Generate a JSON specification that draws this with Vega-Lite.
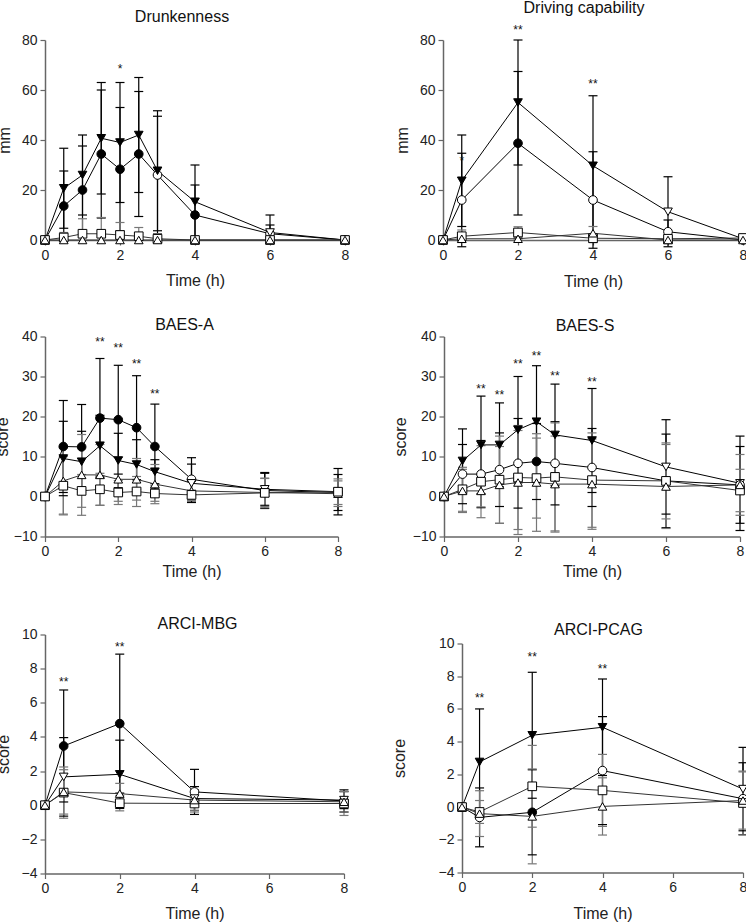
{
"$schema": "https://vega.github.io/schema/vega-lite/v6.json",
"padding": {"left": -6, "top": -1, "right": 0, "bottom": 0},
"datasets": {
"pts": [
{"p":"P1","s":"C","t":0,"m":0,"f":0},{"p":"P1","s":"C","t":0.5,"m":13.6,"lo":-0.4,"hi":27.6,"f":1},{"p":"P1","s":"C","t":1,"m":20,"lo":2.4,"hi":37.6,"f":1},{"p":"P1","s":"C","t":1.5,"m":34.4,"lo":8.8,"hi":60,"f":1},{"p":"P1","s":"C","t":2,"m":28.3,"lo":3.6,"hi":53,"f":1},{"p":"P1","s":"C","t":2.5,"m":34.4,"lo":9.4,"hi":59.4,"f":1},{"p":"P1","s":"C","t":3,"m":26,"lo":2.5,"hi":49.5,"f":0},{"p":"P1","s":"C","t":4,"m":10,"lo":-2,"hi":22,"f":1},{"p":"P1","s":"C","t":6,"m":2.5,"lo":-1,"hi":6,"f":0},{"p":"P1","s":"C","t":8,"m":0,"f":0},
{"p":"P1","s":"D","t":0,"m":0,"f":0},{"p":"P1","s":"D","t":0.5,"m":20.7,"lo":4.7,"hi":36.7,"f":1},{"p":"P1","s":"D","t":1,"m":26,"lo":10,"hi":42,"f":1},{"p":"P1","s":"D","t":1.5,"m":40.7,"lo":18.4,"hi":63,"f":1},{"p":"P1","s":"D","t":2,"m":39,"lo":15,"hi":63,"f":1},{"p":"P1","s":"D","t":2.5,"m":42,"lo":19,"hi":65,"f":1},{"p":"P1","s":"D","t":3,"m":27.7,"lo":3.7,"hi":51.7,"f":1},{"p":"P1","s":"D","t":4,"m":15.3,"lo":0.6,"hi":30,"f":1},{"p":"P1","s":"D","t":6,"m":3,"lo":-4,"hi":10,"f":0},{"p":"P1","s":"D","t":8,"m":0,"f":0},
{"p":"P1","s":"S","t":0,"m":0,"f":0},{"p":"P1","s":"S","t":0.5,"m":1,"lo":-1,"hi":3,"f":0},{"p":"P1","s":"S","t":1,"m":2.5,"lo":-3.5,"hi":8.5,"f":0},{"p":"P1","s":"S","t":1.5,"m":2.5,"lo":-4,"hi":9,"f":0},{"p":"P1","s":"S","t":2,"m":2,"lo":-3,"hi":7,"f":0},{"p":"P1","s":"S","t":2.5,"m":1.5,"lo":-2,"hi":5,"f":0},{"p":"P1","s":"S","t":3,"m":0.5,"lo":-1.5,"hi":2.5,"f":0},{"p":"P1","s":"S","t":4,"m":0,"f":0},{"p":"P1","s":"S","t":6,"m":0,"lo":-1,"hi":1,"f":0},{"p":"P1","s":"S","t":8,"m":0,"f":0},
{"p":"P1","s":"U","t":0,"m":0,"f":0},{"p":"P1","s":"U","t":0.5,"m":0,"f":0},{"p":"P1","s":"U","t":1,"m":0,"f":0},{"p":"P1","s":"U","t":1.5,"m":0,"f":0},{"p":"P1","s":"U","t":2,"m":0,"f":0},{"p":"P1","s":"U","t":2.5,"m":0,"f":0},{"p":"P1","s":"U","t":3,"m":0,"f":0},{"p":"P1","s":"U","t":4,"m":0,"f":0},{"p":"P1","s":"U","t":6,"m":0,"f":0},{"p":"P1","s":"U","t":8,"m":0,"f":0},

{"p":"P2","s":"C","t":0,"m":0,"f":0},{"p":"P2","s":"C","t":0.5,"m":16,"lo":-2.7,"hi":34.7,"f":0},{"p":"P2","s":"C","t":2,"m":38.7,"lo":10,"hi":67.4,"f":1},{"p":"P2","s":"C","t":4,"m":16,"lo":-3.3,"hi":35.3,"f":0},{"p":"P2","s":"C","t":6,"m":3.3,"lo":-1.4,"hi":8,"f":0},{"p":"P2","s":"C","t":8,"m":0,"f":0},
{"p":"P2","s":"D","t":0,"m":0,"f":0},{"p":"P2","s":"D","t":0.5,"m":23.7,"lo":5.4,"hi":42,"f":1},{"p":"P2","s":"D","t":2,"m":55,"lo":30,"hi":80,"f":1},{"p":"P2","s":"D","t":4,"m":29.7,"lo":1.7,"hi":57.7,"f":1},{"p":"P2","s":"D","t":6,"m":11.3,"lo":-2.7,"hi":25.3,"f":0},{"p":"P2","s":"D","t":8,"m":0.5,"lo":0,"hi":1,"f":0},
{"p":"P2","s":"S","t":0,"m":0,"f":0},{"p":"P2","s":"S","t":0.5,"m":1.5,"lo":-1,"hi":4,"f":0},{"p":"P2","s":"S","t":2,"m":3,"lo":0.7,"hi":5.3,"f":0},{"p":"P2","s":"S","t":4,"m":0.7,"lo":-1,"hi":2.4,"f":0},{"p":"P2","s":"S","t":6,"m":0.5,"lo":0,"hi":1,"f":0},{"p":"P2","s":"S","t":8,"m":0.8,"lo":0,"hi":1.6,"f":0},
{"p":"P2","s":"U","t":0,"m":0,"f":0},{"p":"P2","s":"U","t":0.5,"m":0.5,"lo":-0.5,"hi":1.5,"f":0},{"p":"P2","s":"U","t":2,"m":0.5,"lo":0,"hi":1,"f":0},{"p":"P2","s":"U","t":4,"m":2.7,"lo":0,"hi":5.4,"f":0},{"p":"P2","s":"U","t":6,"m":0,"f":0},{"p":"P2","s":"U","t":8,"m":0,"f":0},

{"p":"P3","s":"C","t":0,"m":0,"f":0},{"p":"P3","s":"C","t":0.5,"m":12.5,"lo":1,"hi":24,"f":1},{"p":"P3","s":"C","t":1,"m":12.4,"lo":1.8,"hi":23,"f":1},{"p":"P3","s":"C","t":1.5,"m":19.6,"lo":4.7,"hi":34.5,"f":1},{"p":"P3","s":"C","t":2,"m":19.2,"lo":5.6,"hi":32.8,"f":1},{"p":"P3","s":"C","t":2.5,"m":17.2,"lo":4.2,"hi":30.2,"f":1},{"p":"P3","s":"C","t":3,"m":12.5,"lo":1.9,"hi":23.1,"f":1},{"p":"P3","s":"C","t":4,"m":4.3,"lo":-1.1,"hi":9.7,"f":0},{"p":"P3","s":"C","t":6,"m":1.5,"lo":-3,"hi":6,"f":0},{"p":"P3","s":"C","t":8,"m":1,"lo":-3.5,"hi":5.5,"f":0},
{"p":"P3","s":"D","t":0,"m":0,"f":0},{"p":"P3","s":"D","t":0.5,"m":9.5,"lo":0.2,"hi":18.8,"f":1},{"p":"P3","s":"D","t":1,"m":8.7,"lo":1.1,"hi":16.3,"f":1},{"p":"P3","s":"D","t":1.5,"m":12.7,"lo":5.1,"hi":20.3,"f":1},{"p":"P3","s":"D","t":2,"m":9,"lo":2.2,"hi":15.8,"f":1},{"p":"P3","s":"D","t":2.5,"m":8,"lo":1.8,"hi":14.2,"f":1},{"p":"P3","s":"D","t":3,"m":6.2,"lo":3.2,"hi":9.2,"f":1},{"p":"P3","s":"D","t":4,"m":3.3,"lo":-1.5,"hi":8.1,"f":0},{"p":"P3","s":"D","t":6,"m":1.8,"lo":-2.2,"hi":5.8,"f":0},{"p":"P3","s":"D","t":8,"m":1.2,"lo":-4.6,"hi":7,"f":0},
{"p":"P3","s":"U","t":0,"m":0,"f":0},{"p":"P3","s":"U","t":0.5,"m":3.9,"lo":-4.4,"hi":12.2,"f":0},{"p":"P3","s":"U","t":1,"m":5.4,"lo":-4.7,"hi":15.5,"f":0},{"p":"P3","s":"U","t":1.5,"m":5.4,"lo":-2.2,"hi":13,"f":0},{"p":"P3","s":"U","t":2,"m":4.3,"lo":-1.2,"hi":9.8,"f":0},{"p":"P3","s":"U","t":2.5,"m":4.3,"lo":-0.9,"hi":9.5,"f":0},{"p":"P3","s":"U","t":3,"m":3.1,"lo":-1.8,"hi":8,"f":0},{"p":"P3","s":"U","t":4,"m":1.4,"lo":-1,"hi":3.8,"f":0},{"p":"P3","s":"U","t":6,"m":1,"lo":-2.5,"hi":4.5,"f":0},{"p":"P3","s":"U","t":8,"m":0.7,"lo":-2.5,"hi":3.9,"f":0},
{"p":"P3","s":"S","t":0,"m":0,"f":0},{"p":"P3","s":"S","t":0.5,"m":2.7,"lo":-4.6,"hi":10,"f":0},{"p":"P3","s":"S","t":1,"m":1.4,"lo":-2.7,"hi":5.5,"f":0},{"p":"P3","s":"S","t":1.5,"m":1.8,"lo":-2.2,"hi":5.8,"f":0},{"p":"P3","s":"S","t":2,"m":1,"lo":-2,"hi":4,"f":0},{"p":"P3","s":"S","t":2.5,"m":1.25,"lo":-2.5,"hi":5,"f":0},{"p":"P3","s":"S","t":3,"m":0.75,"lo":-1.2,"hi":2.7,"f":0},{"p":"P3","s":"S","t":4,"m":0.4,"lo":-0.8,"hi":1.6,"f":0},{"p":"P3","s":"S","t":6,"m":0.9,"lo":-2.8,"hi":4.6,"f":0},{"p":"P3","s":"S","t":8,"m":1.2,"lo":-2,"hi":4.4,"f":0},

{"p":"P4","s":"D","t":0,"m":0,"f":0},{"p":"P4","s":"D","t":0.5,"m":8.9,"lo":0.9,"hi":16.9,"f":1},{"p":"P4","s":"D","t":1,"m":12.9,"lo":0.7,"hi":25.1,"f":1},{"p":"P4","s":"D","t":1.5,"m":12.9,"lo":2.4,"hi":23.4,"f":1},{"p":"P4","s":"D","t":2,"m":16.7,"lo":3.4,"hi":30,"f":1},{"p":"P4","s":"D","t":2.5,"m":18.7,"lo":4.7,"hi":32.7,"f":1},{"p":"P4","s":"D","t":3,"m":15.4,"lo":2.7,"hi":28.1,"f":1},{"p":"P4","s":"D","t":4,"m":14,"lo":1,"hi":27,"f":1},{"p":"P4","s":"D","t":6,"m":7.4,"lo":-4.4,"hi":19.2,"f":0},{"p":"P4","s":"D","t":8,"m":3.3,"lo":-8.5,"hi":15.1,"f":0},
{"p":"P4","s":"C","t":0,"m":0,"f":0},{"p":"P4","s":"C","t":0.5,"m":5.6,"lo":-1.8,"hi":13,"f":0},{"p":"P4","s":"C","t":1,"m":5.6,"lo":-2.8,"hi":14,"f":0},{"p":"P4","s":"C","t":1.5,"m":6.7,"lo":-2.5,"hi":15.9,"f":0},{"p":"P4","s":"C","t":2,"m":8.3,"lo":-2.9,"hi":19.5,"f":0},{"p":"P4","s":"C","t":2.5,"m":8.75,"lo":-0.75,"hi":18.25,"f":1},{"p":"P4","s":"C","t":3,"m":8.3,"lo":-2.1,"hi":18.7,"f":0},{"p":"P4","s":"C","t":4,"m":7.25,"lo":-2.5,"hi":17,"f":0},{"p":"P4","s":"C","t":6,"m":3.9,"lo":-7.8,"hi":15.6,"f":0},{"p":"P4","s":"C","t":8,"m":2.9,"lo":-6.7,"hi":12.5,"f":0},
{"p":"P4","s":"S","t":0,"m":0,"f":0},{"p":"P4","s":"S","t":0.5,"m":1.8,"lo":-3.7,"hi":7.3,"f":0},{"p":"P4","s":"S","t":1,"m":3.7,"lo":-5.3,"hi":12.7,"f":0},{"p":"P4","s":"S","t":1.5,"m":4.2,"lo":-6.7,"hi":15.1,"f":0},{"p":"P4","s":"S","t":2,"m":4.75,"lo":-8.25,"hi":17.75,"f":0},{"p":"P4","s":"S","t":2.5,"m":4.6,"lo":-5.4,"hi":14.6,"f":0},{"p":"P4","s":"S","t":3,"m":4.9,"lo":-8.6,"hi":18.4,"f":0},{"p":"P4","s":"S","t":4,"m":4.1,"lo":-7.7,"hi":15.9,"f":0},{"p":"P4","s":"S","t":6,"m":3.9,"lo":-5.6,"hi":13.4,"f":0},{"p":"P4","s":"S","t":8,"m":1.5,"lo":-3.8,"hi":6.8,"f":0},
{"p":"P4","s":"U","t":0,"m":0,"f":0},{"p":"P4","s":"U","t":0.5,"m":1.4,"lo":-4,"hi":6.8,"f":0},{"p":"P4","s":"U","t":1,"m":1.4,"lo":-2.6,"hi":5.4,"f":0},{"p":"P4","s":"U","t":1.5,"m":2.9,"lo":-6.7,"hi":12.5,"f":0},{"p":"P4","s":"U","t":2,"m":3.5,"lo":-9.5,"hi":16.5,"f":0},{"p":"P4","s":"U","t":2.5,"m":3.5,"lo":-8.7,"hi":15.7,"f":0},{"p":"P4","s":"U","t":3,"m":3.1,"lo":-8.9,"hi":15.1,"f":0},{"p":"P4","s":"U","t":4,"m":3.1,"lo":-8.2,"hi":14.4,"f":0},{"p":"P4","s":"U","t":6,"m":2.5,"lo":-8,"hi":13,"f":0},{"p":"P4","s":"U","t":8,"m":2.9,"lo":-4.7,"hi":10.5,"f":0},

{"p":"P5","s":"C","t":0,"m":0,"f":0},{"p":"P5","s":"C","t":0.5,"m":3.47,"lo":0.19,"hi":6.75,"f":1},{"p":"P5","s":"C","t":2,"m":4.78,"lo":0.71,"hi":8.85,"f":1},{"p":"P5","s":"C","t":4,"m":0.78,"lo":-0.54,"hi":2.1,"f":0},{"p":"P5","s":"C","t":8,"m":0.25,"lo":-0.4,"hi":0.9,"f":0},
{"p":"P5","s":"D","t":0,"m":0,"f":0},{"p":"P5","s":"D","t":0.5,"m":1.66,"lo":-0.64,"hi":3.96,"f":0},{"p":"P5","s":"D","t":2,"m":1.81,"lo":-0.19,"hi":3.81,"f":1},{"p":"P5","s":"D","t":4,"m":0.39,"lo":-0.31,"hi":1.09,"f":0},{"p":"P5","s":"D","t":8,"m":0.3,"lo":-0.2,"hi":0.8,"f":0},
{"p":"P5","s":"S","t":0,"m":0,"f":0},{"p":"P5","s":"S","t":0.5,"m":0.74,"lo":-0.76,"hi":2.24,"f":0},{"p":"P5","s":"S","t":2,"m":0.12,"lo":-0.33,"hi":0.57,"f":0},{"p":"P5","s":"S","t":4,"m":0.1,"lo":-0.4,"hi":0.6,"f":0},{"p":"P5","s":"S","t":8,"m":0.1,"lo":-0.6,"hi":0.8,"f":0},
{"p":"P5","s":"U","t":0,"m":0,"f":0},{"p":"P5","s":"U","t":0.5,"m":0.78,"lo":-0.52,"hi":2.08,"f":0},{"p":"P5","s":"U","t":2,"m":0.68,"lo":0.08,"hi":1.28,"f":0},{"p":"P5","s":"U","t":4,"m":0.3,"lo":-0.3,"hi":0.9,"f":0},{"p":"P5","s":"U","t":8,"m":0.2,"lo":-0.4,"hi":0.8,"f":0},

{"p":"P6","s":"D","t":0,"m":0,"f":0},{"p":"P6","s":"D","t":0.5,"m":2.76,"lo":-0.48,"hi":6,"f":1},{"p":"P6","s":"D","t":2,"m":4.39,"lo":0.54,"hi":8.24,"f":1},{"p":"P6","s":"D","t":4,"m":4.88,"lo":1.93,"hi":7.83,"f":1},{"p":"P6","s":"D","t":8,"m":1.1,"lo":-1.45,"hi":3.65,"f":0},
{"p":"P6","s":"C","t":0,"m":0,"f":0},{"p":"P6","s":"C","t":0.5,"m":-0.63,"lo":-2.43,"hi":1.17,"f":0},{"p":"P6","s":"C","t":2,"m":-0.32,"lo":-2.92,"hi":2.28,"f":1},{"p":"P6","s":"C","t":4,"m":2.23,"lo":-1.07,"hi":5.53,"f":0},{"p":"P6","s":"C","t":8,"m":0.51,"lo":-1.69,"hi":2.71,"f":0},
{"p":"P6","s":"S","t":0,"m":0,"f":0},{"p":"P6","s":"S","t":0.5,"m":-0.3,"lo":-1,"hi":0.4,"f":0},{"p":"P6","s":"S","t":2,"m":1.27,"lo":-1.23,"hi":3.77,"f":0},{"p":"P6","s":"S","t":4,"m":1.02,"lo":-1.18,"hi":3.22,"f":0},{"p":"P6","s":"S","t":8,"m":0.25,"lo":-1.7,"hi":2.2,"f":0},
{"p":"P6","s":"U","t":0,"m":0,"f":0},{"p":"P6","s":"U","t":0.5,"m":-0.4,"lo":-1.8,"hi":1,"f":0},{"p":"P6","s":"U","t":2,"m":-0.57,"lo":-3.47,"hi":2.33,"f":0},{"p":"P6","s":"U","t":4,"m":0.04,"lo":-1.71,"hi":1.79,"f":0},{"p":"P6","s":"U","t":8,"m":0.4,"lo":-1.35,"hi":2.15,"f":0}
],
"stars": [
{"p":"P1","t":2,"y":69.6,"lab":"*"},
{"p":"P2","t":0.5,"y":32.7,"lab":"*"},{"p":"P2","t":2,"y":85.3,"lab":"**"},{"p":"P2","t":4,"y":63.7,"lab":"**"},
{"p":"P3","t":1.5,"y":39.3,"lab":"**"},{"p":"P3","t":2,"y":37.9,"lab":"**"},{"p":"P3","t":2.5,"y":34,"lab":"**"},{"p":"P3","t":3,"y":26.4,"lab":"**"},
{"p":"P4","t":1,"y":27.7,"lab":"**"},{"p":"P4","t":1.5,"y":26.25,"lab":"**"},{"p":"P4","t":2,"y":33.9,"lab":"**"},{"p":"P4","t":2.5,"y":36,"lab":"**"},{"p":"P4","t":3,"y":30.8,"lab":"**"},{"p":"P4","t":4,"y":29.5,"lab":"**"},
{"p":"P5","t":0.5,"y":7.4,"lab":"**"},{"p":"P5","t":2,"y":9.45,"lab":"**"},
{"p":"P6","t":0.5,"y":6.88,"lab":"**"},{"p":"P6","t":2,"y":9.33,"lab":"**"},{"p":"P6","t":4,"y":8.61,"lab":"**"}
]
},
"bounds": "full",
"spacing": 27.5,
"vconcat": [
{"hconcat": [
{"width": 300, "height": 200, "title": {"text": "Drunkenness", "offset": 8, "dx": -13},
 "encoding": {"x": {"field": "t", "type": "quantitative", "scale": {"domain": [0, 8], "nice": false}, "axis": {"values": [0,2,4,6,8], "title": "Time (h)", "titlePadding": 10, "labelFlush": false, "labelOverlap": false}}},
 "layer": [
  {"data": {"name": "pts"}, "transform": [{"filter": "datum.p === 'P1'"}], "mark": {"type": "rule", "strokeWidth": 1.2, "clip": true}, "encoding": {"y": {"field": "lo", "type": "quantitative", "title": "mm", "scale": {"domain": [0, 80], "nice": false, "zero": false}, "axis": {"values": [0,20,40,60,80], "titlePadding": 9, "labelOverlap": false}}, "y2": {"field": "hi"}, "stroke": {"field": "s", "type": "nominal", "scale": {"domain": ["C","D","S","U"], "range": ["#000","#000","#777","#777"]}, "legend": null}}},
  {"data": {"name": "pts"}, "transform": [{"filter": "datum.p === 'P1'"}], "mark": {"type": "point", "shape": "M-1,0H1", "size": 81, "filled": false, "strokeWidth": 1.2, "opacity": 1, "clip": true}, "encoding": {"y": {"field": "lo", "type": "quantitative", "title": "mm", "axis": {"values": [0,20,40,60,80], "titlePadding": 9, "labelOverlap": false}}, "stroke": {"field": "s", "type": "nominal", "legend": null}}},
  {"data": {"name": "pts"}, "transform": [{"filter": "datum.p === 'P1'"}], "mark": {"type": "point", "shape": "M-1,0H1", "size": 81, "filled": false, "strokeWidth": 1.2, "opacity": 1, "clip": true}, "encoding": {"y": {"field": "hi", "type": "quantitative", "title": "mm", "axis": {"values": [0,20,40,60,80], "titlePadding": 9, "labelOverlap": false}}, "stroke": {"field": "s", "type": "nominal", "legend": null}}},
  {"data": {"name": "pts"}, "transform": [{"filter": "datum.p === 'P1'"}], "mark": {"type": "line", "strokeWidth": 1}, "encoding": {"y": {"field": "m", "type": "quantitative", "title": "mm", "axis": {"values": [0,20,40,60,80], "titlePadding": 9, "labelOverlap": false}}, "color": {"field": "s", "type": "nominal", "scale": {"domain": ["C","D","S","U"], "range": ["#000","#000","#333","#333"]}, "legend": null}, "order": {"field": "t"}}},
  {"data": {"name": "pts"}, "transform": [{"filter": "datum.p === 'P1'"}], "mark": {"type": "point", "filled": true, "size": 75, "stroke": "#000", "strokeWidth": 1, "opacity": 1}, "encoding": {"y": {"field": "m", "type": "quantitative", "title": "mm", "axis": {"values": [0,20,40,60,80], "titlePadding": 9, "labelOverlap": false}}, "shape": {"field": "s", "type": "nominal", "scale": {"domain": ["C","D","S","U"], "range": ["circle","triangle-down","square","triangle-up"]}, "legend": null}, "fill": {"field": "f", "type": "nominal", "scale": {"domain": [0,1], "range": ["#fff","#000"]}, "legend": null}}},
  {"data": {"name": "stars"}, "transform": [{"filter": "datum.p === 'P1'"}], "mark": {"type": "text", "fontSize": 12, "baseline": "alphabetic", "dy": 7, "color": "#111"}, "encoding": {"y": {"field": "y", "type": "quantitative", "title": "mm", "axis": {"values": [0,20,40,60,80], "titlePadding": 9, "labelOverlap": false}}, "text": {"field": "lab"}}}
 ]},
{"width": 300, "height": 200, "title": {"text": "Driving capability", "offset": 8, "dx": -9},
 "encoding": {"x": {"field": "t", "type": "quantitative", "scale": {"domain": [0, 8], "nice": false}, "axis": {"values": [0,2,4,6,8], "title": "Time (h)", "titlePadding": 11, "labelFlush": false, "labelOverlap": false}}},
 "layer": [
  {"data": {"name": "pts"}, "transform": [{"filter": "datum.p === 'P2'"}], "mark": {"type": "rule", "strokeWidth": 1.2}, "encoding": {"y": {"field": "lo", "type": "quantitative", "title": "mm", "scale": {"domain": [0, 80], "nice": false, "zero": false}, "axis": {"values": [0,20,40,60,80], "titlePadding": 9, "labelOverlap": false}}, "y2": {"field": "hi"}, "stroke": {"field": "s", "type": "nominal", "scale": {"domain": ["C","D","S","U"], "range": ["#000","#000","#777","#777"]}, "legend": null}}},
  {"data": {"name": "pts"}, "transform": [{"filter": "datum.p === 'P2'"}], "mark": {"type": "point", "shape": "M-1,0H1", "size": 81, "filled": false, "strokeWidth": 1.2, "opacity": 1}, "encoding": {"y": {"field": "lo", "type": "quantitative", "title": "mm", "axis": {"values": [0,20,40,60,80], "titlePadding": 9, "labelOverlap": false}}, "stroke": {"field": "s", "type": "nominal", "legend": null}}},
  {"data": {"name": "pts"}, "transform": [{"filter": "datum.p === 'P2'"}], "mark": {"type": "point", "shape": "M-1,0H1", "size": 81, "filled": false, "strokeWidth": 1.2, "opacity": 1}, "encoding": {"y": {"field": "hi", "type": "quantitative", "title": "mm", "axis": {"values": [0,20,40,60,80], "titlePadding": 9, "labelOverlap": false}}, "stroke": {"field": "s", "type": "nominal", "legend": null}}},
  {"data": {"name": "pts"}, "transform": [{"filter": "datum.p === 'P2'"}], "mark": {"type": "line", "strokeWidth": 1}, "encoding": {"y": {"field": "m", "type": "quantitative", "title": "mm", "axis": {"values": [0,20,40,60,80], "titlePadding": 9, "labelOverlap": false}}, "color": {"field": "s", "type": "nominal", "scale": {"domain": ["C","D","S","U"], "range": ["#000","#000","#333","#333"]}, "legend": null}, "order": {"field": "t"}}},
  {"data": {"name": "pts"}, "transform": [{"filter": "datum.p === 'P2'"}], "mark": {"type": "point", "filled": true, "size": 75, "stroke": "#000", "strokeWidth": 1, "opacity": 1}, "encoding": {"y": {"field": "m", "type": "quantitative", "title": "mm", "axis": {"values": [0,20,40,60,80], "titlePadding": 9, "labelOverlap": false}}, "shape": {"field": "s", "type": "nominal", "scale": {"domain": ["C","D","S","U"], "range": ["circle","triangle-down","square","triangle-up"]}, "legend": null}, "fill": {"field": "f", "type": "nominal", "scale": {"domain": [0,1], "range": ["#fff","#000"]}, "legend": null}}},
  {"data": {"name": "stars"}, "transform": [{"filter": "datum.p === 'P2'"}], "mark": {"type": "text", "fontSize": 12, "baseline": "alphabetic", "dy": 7, "color": "#111"}, "encoding": {"y": {"field": "y", "type": "quantitative", "title": "mm", "axis": {"values": [0,20,40,60,80], "titlePadding": 9, "labelOverlap": false}}, "text": {"field": "lab"}}}
 ]}
], "spacing": 98, "bounds": "flush"},
{"vconcat": [
{"hconcat": [
{"width": 293, "height": 200, "title": {"text": "BAES-A", "offset": -3, "dx": -7},
 "encoding": {"x": {"field": "t", "type": "quantitative", "scale": {"domain": [0, 8], "nice": false}, "axis": {"values": [0,2,4,6,8], "title": "Time (h)", "titlePadding": 5, "labelFlush": false, "labelOverlap": false}}},
 "layer": [
  {"data": {"name": "pts"}, "transform": [{"filter": "datum.p === 'P3'"}], "mark": {"type": "rule", "strokeWidth": 1.2}, "encoding": {"y": {"field": "lo", "type": "quantitative", "title": "score", "scale": {"domain": [-10, 40], "nice": false, "zero": false}, "axis": {"values": [-10,0,10,20,30,40], "tickCount": 6, "titlePadding": 3, "labelOverlap": false}}, "y2": {"field": "hi"}, "stroke": {"field": "s", "type": "nominal", "scale": {"domain": ["C","D","S","U"], "range": ["#000","#000","#777","#777"]}, "legend": null}}},
  {"data": {"name": "pts"}, "transform": [{"filter": "datum.p === 'P3'"}], "mark": {"type": "point", "shape": "M-1,0H1", "size": 81, "filled": false, "strokeWidth": 1.2, "opacity": 1}, "encoding": {"y": {"field": "lo", "type": "quantitative", "title": "score", "axis": {"values": [-10,0,10,20,30,40], "tickCount": 6, "titlePadding": 3, "labelOverlap": false}}, "stroke": {"field": "s", "type": "nominal", "legend": null}}},
  {"data": {"name": "pts"}, "transform": [{"filter": "datum.p === 'P3'"}], "mark": {"type": "point", "shape": "M-1,0H1", "size": 81, "filled": false, "strokeWidth": 1.2, "opacity": 1}, "encoding": {"y": {"field": "hi", "type": "quantitative", "title": "score", "axis": {"values": [-10,0,10,20,30,40], "tickCount": 6, "titlePadding": 3, "labelOverlap": false}}, "stroke": {"field": "s", "type": "nominal", "legend": null}}},
  {"data": {"name": "pts"}, "transform": [{"filter": "datum.p === 'P3'"}], "mark": {"type": "line", "strokeWidth": 1}, "encoding": {"y": {"field": "m", "type": "quantitative", "title": "score", "axis": {"values": [-10,0,10,20,30,40], "tickCount": 6, "titlePadding": 3, "labelOverlap": false}}, "color": {"field": "s", "type": "nominal", "scale": {"domain": ["C","D","S","U"], "range": ["#000","#000","#333","#333"]}, "legend": null}, "order": {"field": "t"}}},
  {"data": {"name": "pts"}, "transform": [{"filter": "datum.p === 'P3'"}], "mark": {"type": "point", "filled": true, "size": 75, "stroke": "#000", "strokeWidth": 1, "opacity": 1}, "encoding": {"y": {"field": "m", "type": "quantitative", "title": "score", "axis": {"values": [-10,0,10,20,30,40], "tickCount": 6, "titlePadding": 3, "labelOverlap": false}}, "shape": {"field": "s", "type": "nominal", "scale": {"domain": ["C","D","S","U"], "range": ["circle","triangle-down","square","triangle-up"]}, "legend": null}, "fill": {"field": "f", "type": "nominal", "scale": {"domain": [0,1], "range": ["#fff","#000"]}, "legend": null}}},
  {"data": {"name": "stars"}, "transform": [{"filter": "datum.p === 'P3'"}], "mark": {"type": "text", "fontSize": 12, "baseline": "alphabetic", "dy": 7, "color": "#111"}, "encoding": {"y": {"field": "y", "type": "quantitative", "title": "score", "axis": {"values": [-10,0,10,20,30,40], "tickCount": 6, "titlePadding": 3, "labelOverlap": false}}, "text": {"field": "lab"}}}
 ]},
{"width": 296, "height": 200, "title": {"text": "BAES-S", "offset": -4, "dx": -7},
 "encoding": {"x": {"field": "t", "type": "quantitative", "scale": {"domain": [0, 8], "nice": false}, "axis": {"values": [0,2,4,6,8], "title": "Time (h)", "titlePadding": 5, "labelFlush": false, "labelOverlap": false}}},
 "layer": [
  {"data": {"name": "pts"}, "transform": [{"filter": "datum.p === 'P4'"}], "mark": {"type": "rule", "strokeWidth": 1.2}, "encoding": {"y": {"field": "lo", "type": "quantitative", "title": "score", "scale": {"domain": [-10, 40], "nice": false, "zero": false}, "axis": {"values": [-10,0,10,20,30,40], "tickCount": 6, "titlePadding": 4, "labelOverlap": false}}, "y2": {"field": "hi"}, "stroke": {"field": "s", "type": "nominal", "scale": {"domain": ["C","D","S","U"], "range": ["#000","#000","#777","#777"]}, "legend": null}}},
  {"data": {"name": "pts"}, "transform": [{"filter": "datum.p === 'P4'"}], "mark": {"type": "point", "shape": "M-1,0H1", "size": 81, "filled": false, "strokeWidth": 1.2, "opacity": 1}, "encoding": {"y": {"field": "lo", "type": "quantitative", "title": "score", "axis": {"values": [-10,0,10,20,30,40], "tickCount": 6, "titlePadding": 4, "labelOverlap": false}}, "stroke": {"field": "s", "type": "nominal", "legend": null}}},
  {"data": {"name": "pts"}, "transform": [{"filter": "datum.p === 'P4'"}], "mark": {"type": "point", "shape": "M-1,0H1", "size": 81, "filled": false, "strokeWidth": 1.2, "opacity": 1}, "encoding": {"y": {"field": "hi", "type": "quantitative", "title": "score", "axis": {"values": [-10,0,10,20,30,40], "tickCount": 6, "titlePadding": 4, "labelOverlap": false}}, "stroke": {"field": "s", "type": "nominal", "legend": null}}},
  {"data": {"name": "pts"}, "transform": [{"filter": "datum.p === 'P4'"}], "mark": {"type": "line", "strokeWidth": 1}, "encoding": {"y": {"field": "m", "type": "quantitative", "title": "score", "axis": {"values": [-10,0,10,20,30,40], "tickCount": 6, "titlePadding": 4, "labelOverlap": false}}, "color": {"field": "s", "type": "nominal", "scale": {"domain": ["C","D","S","U"], "range": ["#000","#000","#333","#333"]}, "legend": null}, "order": {"field": "t"}}},
  {"data": {"name": "pts"}, "transform": [{"filter": "datum.p === 'P4'"}], "mark": {"type": "point", "filled": true, "size": 75, "stroke": "#000", "strokeWidth": 1, "opacity": 1}, "encoding": {"y": {"field": "m", "type": "quantitative", "title": "score", "axis": {"values": [-10,0,10,20,30,40], "tickCount": 6, "titlePadding": 4, "labelOverlap": false}}, "shape": {"field": "s", "type": "nominal", "scale": {"domain": ["C","D","S","U"], "range": ["circle","triangle-down","square","triangle-up"]}, "legend": null}, "fill": {"field": "f", "type": "nominal", "scale": {"domain": [0,1], "range": ["#fff","#000"]}, "legend": null}}},
  {"data": {"name": "stars"}, "transform": [{"filter": "datum.p === 'P4'"}], "mark": {"type": "text", "fontSize": 12, "baseline": "alphabetic", "dy": 7, "color": "#111"}, "encoding": {"y": {"field": "y", "type": "quantitative", "title": "score", "axis": {"values": [-10,0,10,20,30,40], "tickCount": 6, "titlePadding": 4, "labelOverlap": false}}, "text": {"field": "lab"}}}
 ]}
], "spacing": 106, "bounds": "flush"},
{"hconcat": [
{"width": 299, "height": 239, "title": {"text": "ARCI-MBG", "offset": -4, "dx": 3},
 "encoding": {"x": {"field": "t", "type": "quantitative", "scale": {"domain": [0, 8], "nice": false}, "axis": {"values": [0,2,4,6,8], "title": "Time (h)", "titlePadding": 10, "labelFlush": false, "labelOverlap": false}}},
 "layer": [
  {"data": {"name": "pts"}, "transform": [{"filter": "datum.p === 'P5'"}], "mark": {"type": "rule", "strokeWidth": 1.2}, "encoding": {"y": {"field": "lo", "type": "quantitative", "title": "score", "scale": {"domain": [-4, 10], "nice": false, "zero": false}, "axis": {"values": [-4,-2,0,2,4,6,8,10], "tickCount": 8, "titlePadding": 10, "labelOverlap": false}}, "y2": {"field": "hi"}, "stroke": {"field": "s", "type": "nominal", "scale": {"domain": ["C","D","S","U"], "range": ["#000","#000","#777","#777"]}, "legend": null}}},
  {"data": {"name": "pts"}, "transform": [{"filter": "datum.p === 'P5'"}], "mark": {"type": "point", "shape": "M-1,0H1", "size": 81, "filled": false, "strokeWidth": 1.2, "opacity": 1}, "encoding": {"y": {"field": "lo", "type": "quantitative", "title": "score", "axis": {"values": [-4,-2,0,2,4,6,8,10], "tickCount": 8, "titlePadding": 10, "labelOverlap": false}}, "stroke": {"field": "s", "type": "nominal", "legend": null}}},
  {"data": {"name": "pts"}, "transform": [{"filter": "datum.p === 'P5'"}], "mark": {"type": "point", "shape": "M-1,0H1", "size": 81, "filled": false, "strokeWidth": 1.2, "opacity": 1}, "encoding": {"y": {"field": "hi", "type": "quantitative", "title": "score", "axis": {"values": [-4,-2,0,2,4,6,8,10], "tickCount": 8, "titlePadding": 10, "labelOverlap": false}}, "stroke": {"field": "s", "type": "nominal", "legend": null}}},
  {"data": {"name": "pts"}, "transform": [{"filter": "datum.p === 'P5'"}], "mark": {"type": "line", "strokeWidth": 1}, "encoding": {"y": {"field": "m", "type": "quantitative", "title": "score", "axis": {"values": [-4,-2,0,2,4,6,8,10], "tickCount": 8, "titlePadding": 10, "labelOverlap": false}}, "color": {"field": "s", "type": "nominal", "scale": {"domain": ["C","D","S","U"], "range": ["#000","#000","#333","#333"]}, "legend": null}, "order": {"field": "t"}}},
  {"data": {"name": "pts"}, "transform": [{"filter": "datum.p === 'P5'"}], "mark": {"type": "point", "filled": true, "size": 75, "stroke": "#000", "strokeWidth": 1, "opacity": 1}, "encoding": {"y": {"field": "m", "type": "quantitative", "title": "score", "axis": {"values": [-4,-2,0,2,4,6,8,10], "tickCount": 8, "titlePadding": 10, "labelOverlap": false}}, "shape": {"field": "s", "type": "nominal", "scale": {"domain": ["C","D","S","U"], "range": ["circle","triangle-down","square","triangle-up"]}, "legend": null}, "fill": {"field": "f", "type": "nominal", "scale": {"domain": [0,1], "range": ["#fff","#000"]}, "legend": null}}},
  {"data": {"name": "stars"}, "transform": [{"filter": "datum.p === 'P5'"}], "mark": {"type": "text", "fontSize": 12, "baseline": "alphabetic", "dy": 7, "color": "#111"}, "encoding": {"y": {"field": "y", "type": "quantitative", "title": "score", "axis": {"values": [-4,-2,0,2,4,6,8,10], "tickCount": 8, "titlePadding": 10, "labelOverlap": false}}, "text": {"field": "lab"}}}
 ]},
{"width": 281, "height": 238, "title": {"text": "ARCI-PCAG", "offset": -3, "dx": -4},
 "encoding": {"x": {"field": "t", "type": "quantitative", "scale": {"domain": [0, 8], "nice": false}, "axis": {"values": [0,2,4,6,8], "title": "Time (h)", "titlePadding": 11, "labelFlush": false, "labelOverlap": false}}},
 "layer": [
  {"data": {"name": "pts"}, "transform": [{"filter": "datum.p === 'P6'"}], "mark": {"type": "rule", "strokeWidth": 1.2}, "encoding": {"y": {"field": "lo", "type": "quantitative", "title": "score", "scale": {"domain": [-4, 10], "nice": false, "zero": false, "range": [238, 9]}, "axis": {"values": [-4,-2,0,2,4,6,8,10], "tickCount": 8, "titlePadding": 31, "labelOverlap": false}}, "y2": {"field": "hi"}, "stroke": {"field": "s", "type": "nominal", "scale": {"domain": ["C","D","S","U"], "range": ["#000","#000","#777","#777"]}, "legend": null}}},
  {"data": {"name": "pts"}, "transform": [{"filter": "datum.p === 'P6'"}], "mark": {"type": "point", "shape": "M-1,0H1", "size": 81, "filled": false, "strokeWidth": 1.2, "opacity": 1}, "encoding": {"y": {"field": "lo", "type": "quantitative", "title": "score", "axis": {"values": [-4,-2,0,2,4,6,8,10], "tickCount": 8, "titlePadding": 31, "labelOverlap": false}}, "stroke": {"field": "s", "type": "nominal", "legend": null}}},
  {"data": {"name": "pts"}, "transform": [{"filter": "datum.p === 'P6'"}], "mark": {"type": "point", "shape": "M-1,0H1", "size": 81, "filled": false, "strokeWidth": 1.2, "opacity": 1}, "encoding": {"y": {"field": "hi", "type": "quantitative", "title": "score", "axis": {"values": [-4,-2,0,2,4,6,8,10], "tickCount": 8, "titlePadding": 31, "labelOverlap": false}}, "stroke": {"field": "s", "type": "nominal", "legend": null}}},
  {"data": {"name": "pts"}, "transform": [{"filter": "datum.p === 'P6'"}], "mark": {"type": "line", "strokeWidth": 1}, "encoding": {"y": {"field": "m", "type": "quantitative", "title": "score", "axis": {"values": [-4,-2,0,2,4,6,8,10], "tickCount": 8, "titlePadding": 31, "labelOverlap": false}}, "color": {"field": "s", "type": "nominal", "scale": {"domain": ["C","D","S","U"], "range": ["#000","#000","#333","#333"]}, "legend": null}, "order": {"field": "t"}}},
  {"data": {"name": "pts"}, "transform": [{"filter": "datum.p === 'P6'"}], "mark": {"type": "point", "filled": true, "size": 75, "stroke": "#000", "strokeWidth": 1, "opacity": 1}, "encoding": {"y": {"field": "m", "type": "quantitative", "title": "score", "axis": {"values": [-4,-2,0,2,4,6,8,10], "tickCount": 8, "titlePadding": 31, "labelOverlap": false}}, "shape": {"field": "s", "type": "nominal", "scale": {"domain": ["C","D","S","U"], "range": ["circle","triangle-down","square","triangle-up"]}, "legend": null}, "fill": {"field": "f", "type": "nominal", "scale": {"domain": [0,1], "range": ["#fff","#000"]}, "legend": null}}},
  {"data": {"name": "stars"}, "transform": [{"filter": "datum.p === 'P6'"}], "mark": {"type": "text", "fontSize": 12, "baseline": "alphabetic", "dy": 7, "color": "#111"}, "encoding": {"y": {"field": "y", "type": "quantitative", "title": "score", "axis": {"values": [-4,-2,0,2,4,6,8,10], "tickCount": 8, "titlePadding": 31, "labelOverlap": false}}, "text": {"field": "lab"}}}
 ]}
], "spacing": 118, "bounds": "flush"}
], "spacing": 36, "bounds": "full"}
],
"config": {
 "view": {"stroke": null},
 "font": "Liberation Sans",
 "axis": {"grid": false, "labelOverlap": false, "domainColor": "#666", "domainWidth": 1.5, "tickColor": "#666", "tickWidth": 1.2, "tickSize": 5, "labelColor": "#222", "titleColor": "#222", "labelFontSize": 14, "titleFontSize": 16, "titleFontWeight": "normal", "labelPadding": 3, "labelFont": "Liberation Sans", "titleFont": "Liberation Sans"},
 "title": {"fontSize": 16, "fontWeight": "normal", "color": "#111", "anchor": "middle", "font": "Liberation Sans"}
}
}
